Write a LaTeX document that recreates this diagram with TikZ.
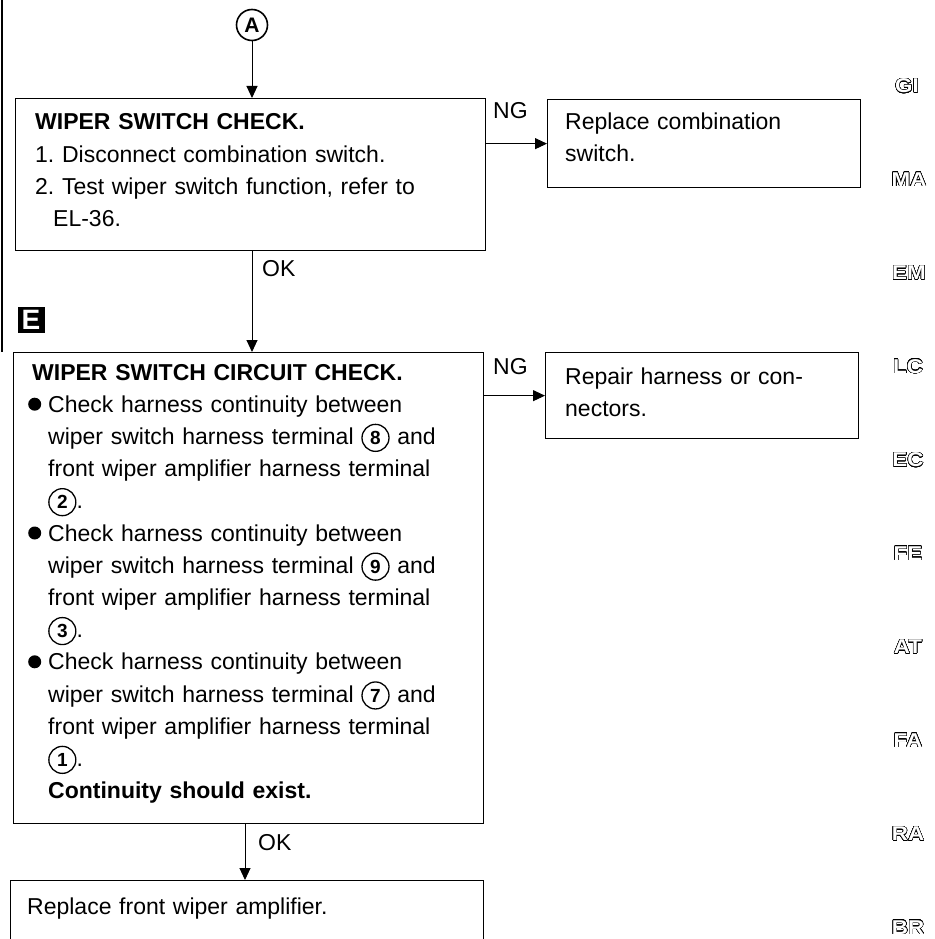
\documentclass[tikz,border=0pt]{standalone}
\usepackage{fontspec}
\setmainfont{Liberation Sans}
\usepackage{graphicx}
\usepackage{contour}
\usetikzlibrary{arrows.meta}
\contourlength{0.4pt}
\contournumber{32}
\newcommand{\cnum}[1]{\tikz[baseline=(cn.base)]\node[circle,draw,line width=1.3pt,inner sep=0pt,minimum size=27pt,font=\bfseries\fontsize{19}{19}\selectfont] (cn) {#1};}
\newcommand{\bul}{\makebox[20pt][l]{\tikz[baseline=-8pt]\fill (6.5pt,0pt) circle (6.5pt);}}
\newcommand{\sidelab}[1]{\scalebox{1.12}[1]{\textcolor{white}{\contour{black}{#1}}}}
\frenchspacing
\begin{document}
\begin{tikzpicture}[x=1pt,y=-1pt,
  box/.style={draw, line width=1.3pt, inner sep=0pt, anchor=north west},
  txt/.style={anchor=base west, inner sep=0pt, text width=450pt, align=left, font=\fontsize{23}{32.2}\selectfont},
  lab/.style={anchor=base west, inner sep=0pt, font=\fontsize{23}{23}\selectfont},
  arr/.style={line width=1pt, -{Triangle[length=12pt,width=11pt]}},
  side/.style={inner sep=0pt, font=\bfseries\fontsize{20}{20}\selectfont}]
\useasboundingbox (0,0) rectangle (934,939);
\clip (0,0) rectangle (934,939);
% margin line
\draw[line width=1.2pt] (2,0) -- (2,352);
% connector A
\node[circle,draw,line width=1.6pt,minimum size=31pt,inner sep=0pt,font=\bfseries\fontsize{21}{21}\selectfont] (A) at (252,25) {A};
% boxes
\node[box, minimum width=470pt, minimum height=152pt] (b1) at (15,98) {};
\node[box, minimum width=313pt, minimum height=88pt] (b2) at (547,99) {};
\node[box, minimum width=470pt, minimum height=471pt] (b3) at (13,352) {};
\node[box, minimum width=313pt, minimum height=86pt] (b4) at (545,352) {};
\node[box, minimum width=473pt, minimum height=100pt] (b5) at (10,880) {};
% texts
\node[txt] (t1) at (35,130) {\textbf{WIPER SWITCH CHECK.}\\1. Disconnect combination switch.\\2. Test wiper switch function, refer to\\\hspace*{18pt}EL-36.};
\node[txt, text width=290pt] (t2) at (565,129) {Replace combination\\switch.};
\node[txt] (t3) at (28,380) {\hspace*{4pt}\textbf{WIPER SWITCH CIRCUIT CHECK.}\\
\bul Check harness continuity between\\
\hspace*{20pt}wiper switch harness terminal \cnum{8} and\\
\hspace*{20pt}front wiper amplifier harness terminal\\
\hspace*{20pt}\cnum{2}.\\
\bul Check harness continuity between\\
\hspace*{20pt}wiper switch harness terminal \cnum{9} and\\
\hspace*{20pt}front wiper amplifier harness terminal\\
\hspace*{20pt}\cnum{3}.\\
\bul Check harness continuity between\\
\hspace*{20pt}wiper switch harness terminal \cnum{7} and\\
\hspace*{20pt}front wiper amplifier harness terminal\\
\hspace*{20pt}\cnum{1}.\\
\hspace*{20pt}\textbf{Continuity should exist.}};
\node[txt, text width=290pt] (t4) at (565,384) {Repair harness or con-\\nectors.};
\node[txt] (t5) at (27,914) {Replace front wiper amplifier.};
% E icon
\node[fill=black, text=white, minimum width=27pt, minimum height=26pt, inner sep=0pt, font=\bfseries\fontsize{28}{28}\selectfont] (eic) at (31,320) {E};
% connectors
\coordinate (c2) at (245,850);
\draw[arr] (A) -- (A |- b1.north);
\draw[arr] (b1.south -| A) -- (b3.north -| A);
\draw[arr] (b1.east |- b2.west) -- (b2.west);
\draw[arr] (b3.east |- b4.west) -- (b4.west);
\draw[arr] (b3.south -| c2) -- (b5.north -| c2);
% labels
\node[lab] (ng1) at (493,118) {NG};
\node[lab] (ok1) at (262,276) {OK};
\node[lab] (ng2) at (493,374) {NG};
\node[lab] (ok2) at (258,850) {OK};
% side tabs
\node[side] (sGI) at (907,86) {\sidelab{GI}};
\node[side] (sMA) at (909,179.5) {\sidelab{MA}};
\node[side] (sEM) at (909,273) {\sidelab{EM}};
\node[side] (sLC) at (908,366.5) {\sidelab{LC}};
\node[side] (sEC) at (908,460) {\sidelab{EC}};
\node[side] (sFE) at (908,553.5) {\sidelab{FE}};
\node[side] (sAT) at (908,647) {\sidelab{AT}};
\node[side] (sFA) at (908,740.5) {\sidelab{FA}};
\node[side] (sRA) at (908,834) {\sidelab{RA}};
\node[side] (sBR) at (908,927.5) {\sidelab{BR}};
\end{tikzpicture}
\end{document}
